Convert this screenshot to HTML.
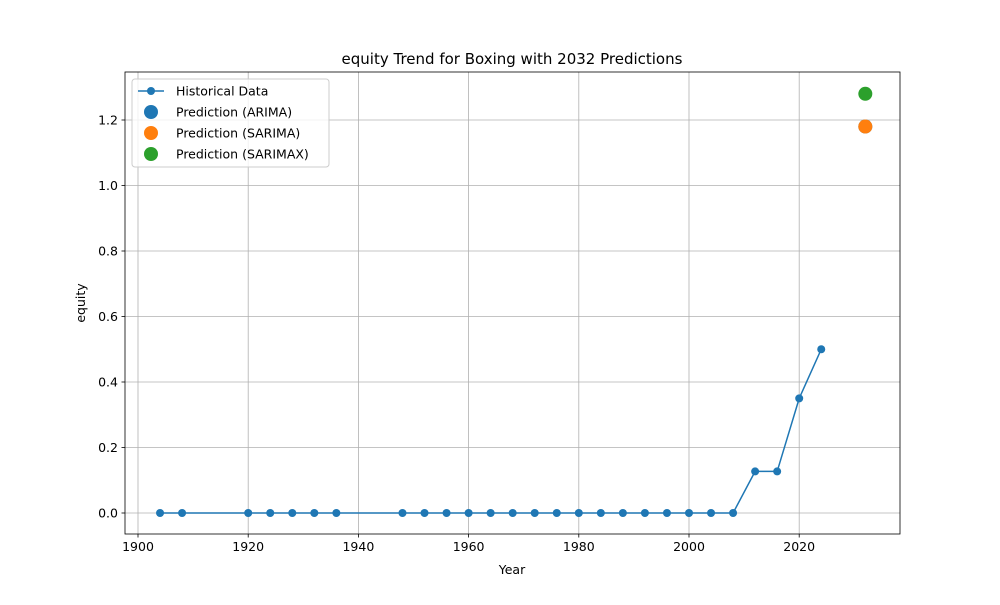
<!DOCTYPE html>
<html><head><meta charset="utf-8"><style>
body{margin:0;background:#fff;font-family:"Liberation Sans","DejaVu Sans",sans-serif}
text{font-family:"DejaVu Sans","Liberation Sans",sans-serif}
</style></head><body>
<svg id="chart" width="1000" height="600"></svg>
<script>
const years=[1904,1908,1920,1924,1928,1932,1936,1948,1952,1956,1960,1964,1968,1972,1976,1980,1984,1988,1992,1996,2000,2004,2008,2012,2016,2020,2024];
const values=[0,0,0,0,0,0,0,0,0,0,0,0,0,0,0,0,0,0,0,0,0,0,0,0.127,0.127,0.35,0.5];
const predYear=2032;
const predArima=[1.18];
const predSarima=[1.18];
const predSarimax=[1.28];
const xTicks=[1900,1920,1940,1960,1980,2000,2020];
const yTicks=[0.0,0.2,0.4,0.6,0.8,1.0,1.2];
const NS='http://www.w3.org/2000/svg';
const svg=document.getElementById('chart');
const L=125,R=900,T=72,B=534;
const xs=v=>138+(v-1900)*5.51;
const ys=v=>513-v*327.5;
function el(t,a,p){const e=document.createElementNS(NS,t);for(const k in a)e.setAttribute(k,a[k]);(p||svg).appendChild(e);return e;}
const grid=el('g',{});
xTicks.forEach(t=>{const x=xs(t);
 el('line',{x1:x,x2:x,y1:T,y2:B,stroke:'#b0b0b0','stroke-width':0.8},grid);
 el('line',{x1:x,x2:x,y1:B,y2:B+3.5,stroke:'#000','stroke-width':0.8});
 const tx=el('text',{x:x,y:B+17,'font-size':12.5,'text-anchor':'middle'});tx.textContent=t;
 });
yTicks.forEach(t=>{const y=ys(t);
 el('line',{x1:L,x2:R,y1:y,y2:y,stroke:'#b0b0b0','stroke-width':0.8},grid);
 el('line',{x1:L-3.5,x2:L,y1:y,y2:y,stroke:'#000','stroke-width':0.8});
 const tx=el('text',{x:L-7,y:y+4.5,'font-size':12.5,'text-anchor':'end'});tx.textContent=t.toFixed(1);
 });
const line=el('polyline',{points:years.map((y,i)=>xs(y)+','+ys(values[i])).join(' '),fill:'none',stroke:'#1f77b4','stroke-width':1.5});

years.forEach((y,i)=>{const c=el('circle',{cx:xs(y),cy:ys(values[i]),r:4,fill:'#1f77b4'});
 });
[[predArima,'#1f77b4','prediction-arima'],[predSarima,'#ff7f0e','prediction-sarima'],[predSarimax,'#2ca02c','prediction-sarimax']].forEach(([a,c,n])=>{
 const p=el('circle',{cx:xs(predYear),cy:ys(a[0]),r:7,fill:c});
 });
el('rect',{x:L,y:T,width:R-L,height:B-T,fill:'none',stroke:'#000','stroke-width':0.8});
const title=el('text',{x:512,y:64,'font-size':15,'text-anchor':'middle'});title.textContent='equity Trend for Boxing with 2032 Predictions';

const xl=el('text',{x:512,y:574,'font-size':12.5,'text-anchor':'middle'});xl.textContent='Year';

const yl=el('text',{x:85,y:303,'font-size':12.5,'text-anchor':'middle',transform:'rotate(-90 85 303)'});yl.textContent='equity';

const lg=el('g',{});
el('rect',{x:132,y:79,width:197,height:88,rx:3,fill:'#fff','fill-opacity':0.8,stroke:'#ccc'},lg);
const items=[['Historical Data','#1f77b4',true],['Prediction (ARIMA)','#1f77b4',false],['Prediction (SARIMA)','#ff7f0e',false],['Prediction (SARIMAX)','#2ca02c',false]];
items.forEach((it,i)=>{const y=91+i*21;
 const g=el('g',{},lg);
 if(it[2]){el('line',{x1:138,x2:164,y1:y,y2:y,stroke:it[1],'stroke-width':1.5},g);el('circle',{cx:151,cy:y,r:4,fill:it[1]},g);}
 else el('circle',{cx:151,cy:y,r:7,fill:it[1]},g);
 const t=el('text',{x:176,y:y+4.5,'font-size':12.5},g);t.textContent=it[0];});
</script>
</body></html>
